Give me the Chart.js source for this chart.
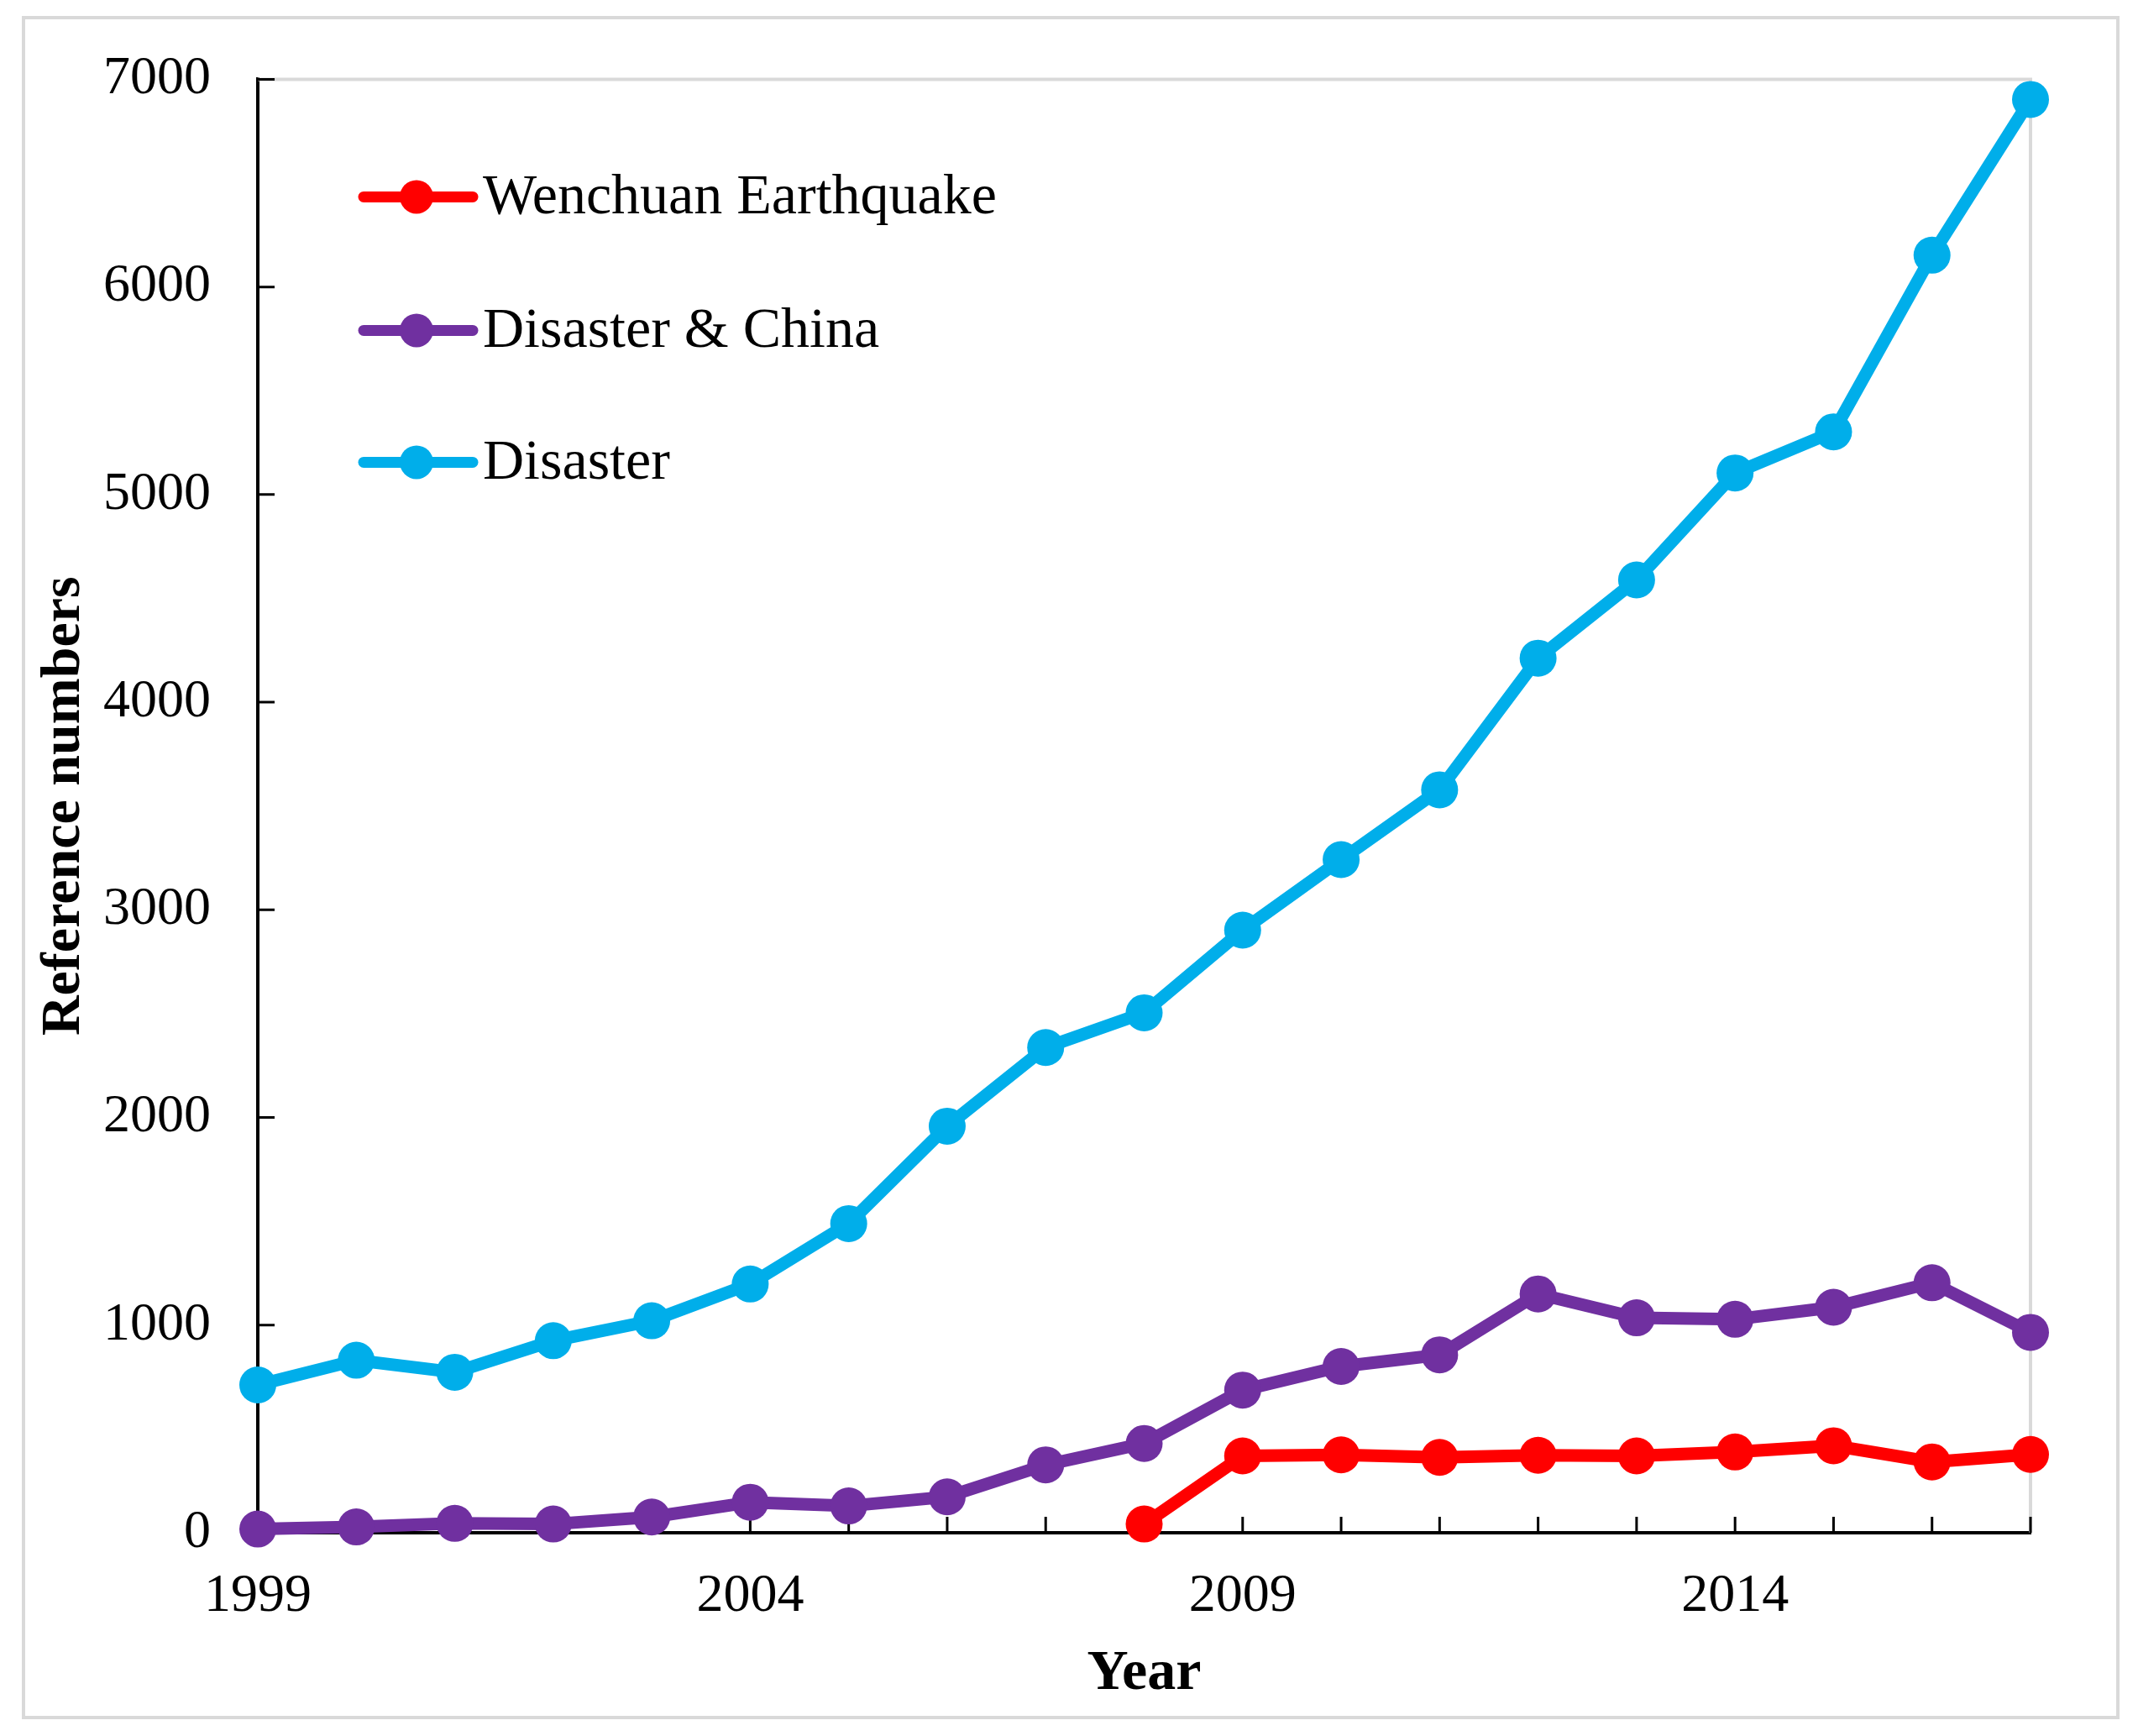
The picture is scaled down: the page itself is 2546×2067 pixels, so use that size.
<!DOCTYPE html>
<html>
<head>
<meta charset="utf-8">
<script src="https://cdn.jsdelivr.net/npm/chart.js@4.4.0/dist/chart.umd.min.js"></script>
<style>
  html, body { margin: 0; padding: 0; background: #ffffff; overflow: hidden; }
  #wrap { position: relative; width: 2546px; height: 2067px; }
  #frame { position: absolute; left: 26px; top: 19px; width: 2490px; height: 2020px; border: 4px solid #d9d9d9; pointer-events: none; }
  canvas { position: absolute; left: 0; top: 0; width: 2546px; height: 2067px; }
</style>
</head>
<body>
<div id="wrap">
  <canvas id="c" width="2546" height="2067"></canvas>
  <div id="frame"></div>
</div>
<script>
const years = ['1999','2000','2001','2002','2003','2004','2005','2006','2007','2008','2009','2010','2011','2012','2013','2014','2015','2016','2017'];
const wenchuan = [null,null,null,null,null,null,null,null,null,42,370,375,363,373,370,389,419,341,377];
const disasterChina = [18,28,45,42,76,147,129,173,327,430,687,801,857,1150,1035,1028,1086,1204,965];
const disaster = [712,831,773,925,1021,1198,1489,1958,2337,2504,2902,3242,3578,4212,4589,5104,5302,6153,6903];
const yTicks = [0,1000,2000,3000,4000,5000,6000,7000];
const xLabelYears = ['1999','2004','2009','2014'];
const seriesNames = ['Wenchuan Earthquake','Disaster & China','Disaster'];
const seriesColors = ['#ff0000','#7030a0','#00aeea'];

const SERIF = '"Liberation Serif", "Times New Roman", serif';

const frameAndTicks = {
  id: 'frameAndTicks',
  beforeDatasetsDraw(chart) {
    const {ctx, chartArea: a, scales: {x, y}} = chart;
    ctx.save();
    ctx.strokeStyle = '#d9d9d9';
    ctx.lineWidth = 4;
    ctx.beginPath();
    ctx.moveTo(a.left, a.top);
    ctx.lineTo(a.right, a.top);
    ctx.lineTo(a.right, a.bottom);
    ctx.stroke();
    ctx.strokeStyle = '#000000';
    ctx.lineWidth = 3;
    ctx.beginPath();
    x.ticks.forEach((t, i) => {
      const px = x.getPixelForTick(i);
      ctx.moveTo(px, a.bottom);
      ctx.lineTo(px, a.bottom - 19);
    });
    y.ticks.forEach((t, i) => {
      const py = y.getPixelForTick(i);
      ctx.moveTo(a.left, py);
      ctx.lineTo(a.left + 20, py);
    });
    ctx.stroke();
    ctx.restore();
  }
};

const insideLegend = {
  id: 'insideLegend',
  afterDraw(chart) {
    const {ctx, chartArea: a} = chart;
    const rows = [140, 299, 456];
    ctx.save();
    chart.data.datasets.forEach((ds, i) => {
      const cy = a.top + rows[i];
      const x0 = a.left + 126, x1 = a.left + 256, mx = a.left + 189;
      ctx.strokeStyle = ds.borderColor;
      ctx.lineWidth = 13;
      ctx.lineCap = 'round';
      ctx.beginPath();
      ctx.moveTo(x0, cy);
      ctx.lineTo(x1, cy);
      ctx.stroke();
      ctx.fillStyle = ds.borderColor;
      ctx.beginPath();
      ctx.arc(mx, cy, 20, 0, Math.PI * 2);
      ctx.fill();
      ctx.fillStyle = '#000000';
      ctx.font = '68px ' + SERIF;
      ctx.textBaseline = 'middle';
      ctx.textAlign = 'left';
      ctx.fillText(ds.label, a.left + 268, cy + 2);
    });
    ctx.restore();
  }
};

function makeDataset(label, data, color) {
  return {
    label: label,
    data: data,
    borderColor: color,
    backgroundColor: color,
    borderWidth: 15,
    pointRadius: 22,
    pointHoverRadius: 22,
    pointBorderWidth: 0,
    pointBackgroundColor: color,
    tension: 0,
    spanGaps: false,
    clip: false
  };
}

new Chart(document.getElementById('c'), {
  type: 'line',
  data: {
    labels: years,
    datasets: [
      makeDataset(seriesNames[0], wenchuan, seriesColors[0]),
      makeDataset(seriesNames[1], disasterChina, seriesColors[1]),
      makeDataset(seriesNames[2], disaster, seriesColors[2])
    ]
  },
  options: {
    responsive: false,
    devicePixelRatio: 1,
    animation: false,
    layout: { padding: { left: 0, top: 91, right: 128, bottom: 0 } },
    plugins: { legend: { display: false }, tooltip: { enabled: false }, title: { display: false } },
    scales: {
      x: {
        type: 'category',
        offset: false,
        grid: { display: false, drawTicks: false },
        border: { display: true, color: '#000000', width: 4 },
        ticks: {
          autoSkip: false,
          maxRotation: 0,
          minRotation: 0,
          padding: 38,
          color: '#000000',
          font: { family: SERIF, size: 64 },
          callback: function(v, i) { const l = years[i]; return xLabelYears.includes(l) ? l : ''; }
        },
        title: {
          display: true,
          text: 'Year',
          color: '#000000',
          font: { family: SERIF, size: 68, weight: 'bold' },
          padding: { top: 0, bottom: 33 }
        },
        afterFit(s) { s.height = 2067 - 1825; }
      },
      y: {
        min: 0,
        max: 7000,
        afterBuildTicks(s) { s.ticks = yTicks.map(v => ({ value: v })); },
        grid: { display: false, drawTicks: false },
        border: { display: true, color: '#000000', width: 4 },
        ticks: {
          padding: 56,
          color: '#000000',
          font: { family: SERIF, size: 64 },
          callback: function(v) { return String(v); }
        },
        title: {
          display: true,
          text: 'Reference numbers',
          color: '#000000',
          font: { family: SERIF, size: 66, weight: 'bold' },
          padding: { top: 37, bottom: 37 }
        },
        afterFit(s) { s.width = 307; }
      }
    }
  },
  plugins: [frameAndTicks, insideLegend]
});
</script>
</body>
</html>
